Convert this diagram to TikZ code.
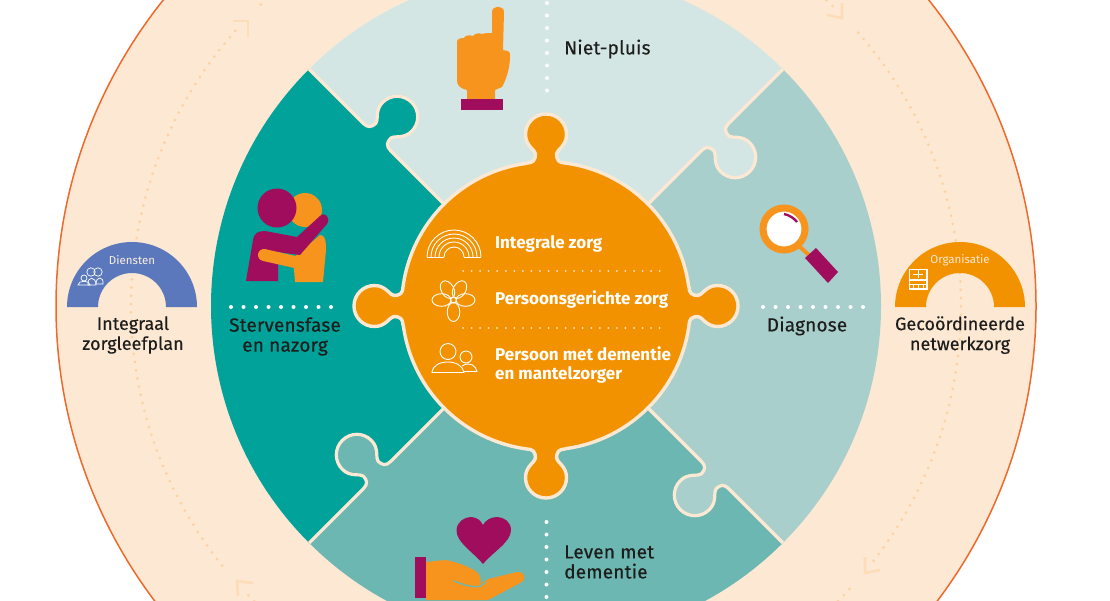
\documentclass[tikz,border=0pt]{standalone}
\usepackage{fontspec}
\setmainfont{Fira Sans}
\definecolor{ringc}{HTML}{FDE8D3}
\definecolor{ringedge}{HTML}{EE6A2C}
\definecolor{dotc}{HTML}{FBD3A2}
\definecolor{chevc}{HTML}{FCDDB8}
\definecolor{pieceA}{HTML}{D3E6E4}
\definecolor{pieceB}{HTML}{A8CFCC}
\definecolor{pieceC}{HTML}{6CB7B1}
\definecolor{pieceD}{HTML}{00A29A}
\definecolor{hubc}{HTML}{F39200}
\definecolor{handc}{HTML}{F7941E}
\definecolor{plum}{HTML}{A00D5C}
\definecolor{bluec}{HTML}{5B78BC}
\definecolor{inkc}{HTML}{1D1D1B}
\newcommand\tp[6]{({#1+(#6)*cos(#3)+(#4)*(#5)*sin(#3)},{#2+(#6)*sin(#3)-(#4)*(#5)*cos(#3)})}
\newcommand\tabshape[4]{%
 -- \tp{#1}{#2}{#3}{#4}{-19}{0}
 .. controls \tp{#1}{#2}{#3}{#4}{-13}{0} and \tp{#1}{#2}{#3}{#4}{-10.5}{3} .. \tp{#1}{#2}{#3}{#4}{-10.5}{9}
 .. controls \tp{#1}{#2}{#3}{#4}{-10.5}{13} and \tp{#1}{#2}{#3}{#4}{-20.5}{17} .. \tp{#1}{#2}{#3}{#4}{-20.5}{28.5}
 .. controls \tp{#1}{#2}{#3}{#4}{-20.5}{40} and \tp{#1}{#2}{#3}{#4}{-11.3}{49} .. \tp{#1}{#2}{#3}{#4}{0}{49}
 .. controls \tp{#1}{#2}{#3}{#4}{11.3}{49} and \tp{#1}{#2}{#3}{#4}{20.5}{40} .. \tp{#1}{#2}{#3}{#4}{20.5}{28.5}
 .. controls \tp{#1}{#2}{#3}{#4}{20.5}{17} and \tp{#1}{#2}{#3}{#4}{10.5}{13} .. \tp{#1}{#2}{#3}{#4}{10.5}{9}
 .. controls \tp{#1}{#2}{#3}{#4}{10.5}{3} and \tp{#1}{#2}{#3}{#4}{13}{0} .. \tp{#1}{#2}{#3}{#4}{19}{0}}
\tikzset{
  label/.style={font=\fontsize{19}{20}\selectfont\addfontfeature{LetterSpace=1.0,FakeBold=0.35},text=inkc,align=center,inner sep=0pt},
  sidelabel/.style={label,font=\fontsize{18}{20}\selectfont\addfontfeature{FakeBold=0.35}},
  leftlabel/.style={label,align=left,anchor=west},
  hubtext/.style={font=\fontsize{17}{19}\selectfont\bfseries,text=white,align=left,anchor=west,inner sep=0pt},
  archtext/.style={font=\fontsize{11.5}{12}\selectfont,inner sep=0pt},
  whitedots/.style={draw=white,line width=4pt,line cap=round,dash pattern=on 0pt off 12.5pt},
  hubdots/.style={draw=ringc,line width=2pt,line cap=round,dash pattern=on 0pt off 8.55pt},
  ringdots/.style={draw=dotc,line width=3pt,line cap=round,dash pattern=on 0pt off 8.3pt},
  chev/.style={draw=chevc,line width=2.6pt},
  hubline/.style={draw=white,line width=0.9pt},
}
\begin{document}
\begin{tikzpicture}[x=1pt,y=-1pt]
\useasboundingbox (0,0) rectangle (1110,600);
\clip (0,0) rectangle (1110,600);
\fill[white] (0,0) rectangle (1110,600);
\coordinate (ctr) at (546,306);
% ---- rings, pieces, hub: y axis up, origin at the centre
\begin{scope}[shift={(ctr)},y=1pt]
  \draw[fill=ringc,draw=ringedge,line width=1.5pt] (0,0) circle[radius=490pt];
  \foreach \a/\b in {133.4/46,41.2/-38.2,-43/-136.7,-141.3/-222}{
    \draw[ringdots] ({415*cos(\a)},{415*sin(\a)}) arc[start angle=\a,end angle=\b,radius=415pt];
  }
  \foreach \k/\col in {0/pieceA,1/pieceB,2/pieceC,3/pieceD}{
    \pgfmathsetmacro\fa{45-90*\k}
    \pgfmathsetmacro\fb{135-90*\k}
    \edef\piecepath{({120*cos(\fa)},{120*sin(\fa)})
      \tabshape{239*cos(\fa)}{239*sin(\fa)}{\fa-90}{-1}
      -- ({335*cos(\fa)},{335*sin(\fa)})
      arc[start angle=\fa,end angle=\fa+90,radius=335pt]
      \tabshape{239*cos(\fb)}{239*sin(\fb)}{\fb-90}{1}
      -- ({120*cos(\fb)},{120*sin(\fb)}) -- cycle}
    \fill[\col] \piecepath;
  }
  \foreach \k in {0,1,2,3}{
    \pgfmathsetmacro\fa{45-90*\k}
    \edef\seam{({120*cos(\fa)},{120*sin(\fa)})
      \tabshape{239*cos(\fa)}{239*sin(\fa)}{\fa-90}{-1}
      -- ({335*cos(\fa)},{335*sin(\fa)})}
    \draw[ringc,line width=3.2pt,line join=round] \seam;
  }
  \edef\hubpath{({143*cos(90)+19*cos(180)},{143*sin(90)+19*sin(180)})
    \tabshape{143*cos(90)}{143*sin(90)}{90}{1}
    arc[start angle=82.4,end angle=7.6,radius=144pt]
    \tabshape{143*cos(0)}{143*sin(0)}{0}{1}
    arc[start angle=-7.6,end angle=-82.4,radius=144pt]
    \tabshape{143*cos(-90)}{143*sin(-90)}{-90}{1}
    arc[start angle=-97.6,end angle=-172.4,radius=144pt]
    \tabshape{143*cos(180)}{143*sin(180)}{180}{1}
    arc[start angle=172.4,end angle=97.6,radius=144pt] -- cycle}
  \draw[fill=hubc,draw=ringc,line width=3.4pt,line join=round] \hubpath;
\end{scope}
% ---- chevrons (clockwise flow)
\draw[chev] (233,21) -- (248,21) -- (248,37);
\draw[chev] (842,3) -- (842,18) -- (827,15);
\draw[chev] (865,557) -- (865,573) -- (880,570);
\draw[chev] (253,583) -- (237,581) -- (238,596);
% ---- arches
\fill[bluec] (67,307) arc[start angle=180,end angle=0,radius=65pt] -- (166,307) arc[start angle=0,end angle=180,radius=34pt] -- cycle;
\fill[hubc] (895,307) arc[start angle=180,end angle=0,radius=65pt] -- (994,307) arc[start angle=0,end angle=180,radius=34pt] -- cycle;
\node[archtext,text=ringc!70!white] (diensten) at (132,260) {Diensten};
\node[archtext,text=ringc] (organisatie) at (960,260) {Organisatie};
% people icon on the blue arch
\begin{scope}[draw=white,line width=0.7pt]
  \draw (91,272) circle[radius=4.2]; \draw (98,272) circle[radius=4.2];
  \draw (84,278) circle[radius=3];
  \draw (78,285) .. controls (78,280) and (90,280) .. (90,285) -- cycle;
  \draw (88,285) .. controls (87,276) and (96,276) .. (96,285) -- cycle;
  \draw (96,284) .. controls (96,276) and (104,276) .. (103,284) -- cycle;
\end{scope}
% building icon on the orange arch
\begin{scope}[draw=white]
  \draw[line width=1.2pt] (909.5,269.5) rectangle (927,289);
  \draw[line width=1.2pt] (909.5,280) -- (927,280);
  \draw[line width=1.2pt] (909.5,284.5) -- (927,284.5);
  \draw[line width=0.8pt] (918,269.5) -- (918,278) (913,274) -- (923,274) (918,284) -- (918,289) (913,284) -- (913,289) (923,284) -- (923,289);
\end{scope}
% ---- dotted dividers
\draw[whitedots] (547,3) -- (547,93);
\draw[whitedots] (546.5,522) -- (546.5,600);
\draw[whitedots] (231,307) -- (333,307);
\draw[whitedots] (763,307) -- (865,307);
\draw[hubdots] (463,271) -- (668,271);
\draw[hubdots] (463,328) -- (668,328);
% ---- pointing hand
\fill[handc] (492,12) .. controls (492,5) and (504,5) .. (504,12) -- (503,50) -- (508,51) .. controls (510,52) and (510,54) .. (510,56)
  .. controls (510,65) and (508,76) .. (502,87) -- (495,90) -- (495,100) -- (467,100) -- (467,90)
  .. controls (459,88) and (457,85) .. (457,80) -- (457,42) .. controls (457,39) and (460,38) .. (464,38)
  .. controls (465,35) and (470,35) .. (473,36) .. controls (475,33) and (480,33) .. (482,34) .. controls (485,33) and (490,33) .. (492,33) -- cycle;
\fill[plum] (461,99) rectangle (503,110);
% ---- magnifier
\draw[handc,line width=4pt] (800,247) -- (810,256);
\fill[plum] (805,258) -- (816,248) -- (838,272) -- (828,283) -- cycle;
\draw[fill=white,draw=handc,line width=7pt] (784,229) circle[radius=21];
\draw[plum,line width=2.4pt] (784,214) .. controls (789,215) and (794,218) .. (797,222);
% ---- hug
\fill[handc] (305,210) circle[radius=17];
\fill[handc] (295,282) -- (293,258) -- (320,235) .. controls (325,235) and (326,240) .. (326,250) -- (323,282) -- cycle;
\fill[plum] (277,208) circle[radius=19.5];
\fill[plum] (246,281) -- (253,240) .. controls (254,233) and (258,231) .. (265,231) -- (297,237) -- (320,216)
  .. controls (325,211) and (331,218) .. (327,224) -- (300,255) -- (262,250) -- (278,262) -- (278,281) -- cycle;
\draw[handc,line width=12pt,line cap=round] (264,255) -- (295,262);
% ---- heart and open hand
\fill[plum] (483,564) .. controls (472,551) and (456,542) .. (456.5,530) .. controls (457,522) and (464,517) .. (471,517)
  .. controls (477,517) and (481,521) .. (483,525) .. controls (485,521) and (490,517) .. (497,517)
  .. controls (504,517) and (511,522) .. (511,530) .. controls (511,542) and (494,551) .. (483,564) -- cycle;
\fill[handc] (426,562) -- (445,560) .. controls (458,562) and (472,568) .. (478,573)
  .. controls (481,577) and (481,581) .. (480,584) -- (488,579) -- (517,572) .. controls (524,571) and (527,578) .. (522,582)
  -- (488,600) -- (426,600) -- cycle;
\draw[pieceC,line width=1.4pt,line cap=round] (454,581) .. controls (464,585) and (474,588) .. (481,586) -- (486,582);
\fill[plum] (414.5,556.5) rectangle (425.5,598);
% ---- hub icons
\begin{scope}[hubline]
  \foreach \r in {27,23,19,15,10}{
    \draw (454-\r,257) arc[start angle=180,end angle=0,radius=\r pt];
  }
  \draw (427,257) -- (444,257) (464,257) -- (481,257);
  \begin{scope}[shift={(453.5,300)},y=1pt]
    \foreach \ang in {60,120,180,0,270}{
      \draw[rotate=\ang] (12,0) ellipse[x radius=9.5pt,y radius=6.3pt];
    }
    \draw (0,0) circle[radius=3pt];
  \end{scope}
  \draw (448,351.5) circle[radius=8];
  \draw (432,372.5) .. controls (433,365) and (440,362) .. (448,362) .. controls (456,362) and (463,366) .. (464,372.5) -- cycle;
  \draw (466,357) circle[radius=6];
  \draw (462,366) .. controls (470,361) and (476,366) .. (477,371.5) -- (464,371.5);
\end{scope}
\node[hubtext] (t1) at (495,243.5) {Integrale zorg};
\node[hubtext] (t2) at (495,299) {Persoonsgerichte zorg};
\node[hubtext] (t3) at (495,364.5) {Persoon met dementie\\en mantelzorger};
% ---- labels
\node[leftlabel] (nietpluis) at (564,49) {Niet-pluis};
\node[leftlabel] (leven) at (564,562) {Leven met\\dementie};
\node[label] (sterven) at (285,336.5) {Stervensfase\\en nazorg};
\node[label] (diagnose) at (807,326) {Diagnose};
\node[sidelabel] (integraal) at (133,335) {Integraal\\zorgleefplan};
\node[sidelabel] (gecoord) at (960,335) {Gecoördineerde\\netwerkzorg};
\end{tikzpicture}
\end{document}
